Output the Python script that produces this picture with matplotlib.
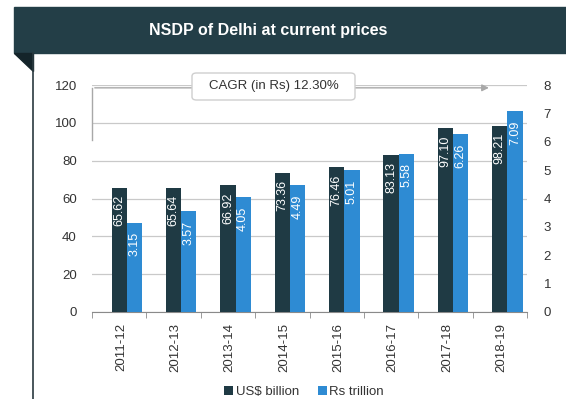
import matplotlib
matplotlib.use("Agg")
from matplotlib import pyplot as plt
from matplotlib.patches import Rectangle, Polygon, FancyBboxPatch
from matplotlib.lines import Line2D
import numpy as np

plt.rcParams['font.family'] = ['Liberation Sans', 'DejaVu Sans']

years = ["2011-12", "2012-13", "2013-14", "2014-15", "2015-16", "2016-17", "2017-18", "2018-19"]
usd_billion = [65.62, 65.64, 66.92, 73.36, 76.46, 83.13, 97.10, 98.21]
rs_trillion = [3.15, 3.57, 4.05, 4.49, 5.01, 5.58, 6.26, 7.09]
cagr_text = "CAGR (in Rs) 12.30%"

dark = "#1f3a44"
blue = "#2e8bd3"
header = "#233e47"
grid = "#c9c9c9"
W, H = 566, 399


def px(x, y):
    # pixel coords (top-left origin) -> figure fraction
    return x / W, 1 - y / H


fig = plt.figure(figsize=(W / 100, H / 100), dpi=100)

# header banner, fold and panel edge
fig.patches.append(Rectangle(px(14, 53), (W - 14) / W, 46 / H, transform=fig.transFigure,
                             color=header, zorder=0))
fig.patches.append(Polygon([px(14, 53), px(33, 53), px(33, 71)], closed=True,
                           transform=fig.transFigure, color="#14242a", zorder=0))
fig.lines.append(Line2D([32.5 / W, 32.5 / W], [0, 1 - 53 / H], transform=fig.transFigure,
                        color="#2a3a40", lw=1.2))
fig.text(268 / W, 1 - 30 / H, "NSDP of Delhi at current prices", color="white",
         fontsize=11.5, fontweight="bold", ha="center", va="center")

l, b = px(92, 312)
r, t = px(527, 85)
ax = fig.add_axes([l, b, r - l, t - b])
ax2 = ax.twinx()

x = np.arange(len(years))
w = 0.28
b1 = ax.bar(x, usd_billion, w, color=dark, zorder=3, label="US$ billion")
b2 = ax2.bar(x + w, rs_trillion, w, color=blue, zorder=3, label="Rs trillion")

for rect, v in zip(b1, usd_billion):
    ax.annotate(f"{v:.2f}", (rect.get_x() + rect.get_width() / 2, rect.get_height()),
                xytext=(0, -5), textcoords="offset points", rotation=90,
                ha="center", va="top", color="white", fontsize=9, zorder=4)
for rect, v in zip(b2, rs_trillion):
    ax2.annotate(f"{v:.2f}", (rect.get_x() + rect.get_width() / 2, rect.get_height()),
                 xytext=(0, -7), textcoords="offset points", rotation=90,
                 ha="center", va="top", color="white", fontsize=9, zorder=4)

ax.set_xlim(-0.5, len(years) - 0.5)
ax.set_ylim(0, 120)
ax2.set_ylim(0, 8)
ax.set_yticks(range(0, 121, 20))
ax2.set_yticks(range(0, 9))

for a in (ax, ax2):
    for s in a.spines.values():
        s.set_visible(False)
ax.spines["bottom"].set_visible(True)
ax.spines["bottom"].set_color("#8a8a8a")

ax.set_axisbelow(True)
ax.yaxis.grid(True, color=grid, lw=0.9)
ax.tick_params(axis="y", length=0, pad=11, labelsize=9.5, labelcolor="#333333")
ax2.tick_params(axis="y", length=0, pad=12, labelsize=9.5, labelcolor="#333333")

ax.set_xticks(x + 0.03)
ax.set_xticklabels(years, rotation=90, fontsize=9.5, color="#333333")
ax.set_xticks(np.arange(-0.5, len(years)), minor=True)
ax.tick_params(axis="x", which="major", length=0, pad=8)
ax.tick_params(axis="x", which="minor", length=4, color="#8a8a8a", direction="out")

# CAGR arrow and label box
ax.plot([-0.5, -0.5], [91, 118.5], color="#a8a8a8", lw=1, zorder=2, clip_on=False)
ax.annotate("", xy=(6.85, 118.5), xytext=(-0.5, 118.5),
            arrowprops=dict(arrowstyle="-|>", color="#a8a8a8", lw=1, mutation_scale=10),
            zorder=2, annotation_clip=False)
bx0, by0 = px(192, 100)
bx1, by1 = px(355, 73)
fig.patches.append(FancyBboxPatch((bx0, by0), bx1 - bx0, by1 - by0,
                                  boxstyle="round,pad=0,rounding_size=0.008",
                                  transform=fig.transFigure, facecolor="white",
                                  edgecolor="#cfcfcf", lw=1, zorder=5))
fig.text((bx0 + bx1) / 2, (by0 + by1) / 2, cagr_text, fontsize=9.5, color="#333333",
         ha="center", va="center", zorder=6)

fig.legend(handles=[b1, b2], loc="center", bbox_to_anchor=(px(304, 392)), ncol=2,
           frameon=False, fontsize=9.5, handlelength=0.7, handleheight=0.7,
           handletextpad=0.2, columnspacing=1.4, borderpad=0, labelcolor="#333333")

fig.savefig("out.png", dpi=100)
